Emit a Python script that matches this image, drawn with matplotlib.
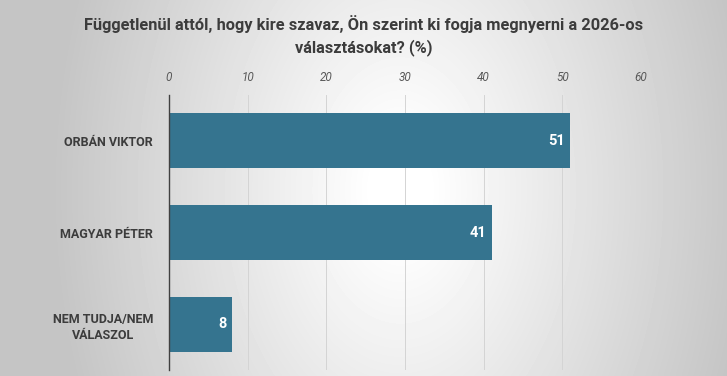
import numpy as np
import matplotlib.pyplot as plt

# adatok
categories = ["ORBÁN VIKTOR", "MAGYAR PÉTER", "NEM TUDJA/NEM\nVÁLASZOL"]
values = [51, 41, 8]
ticks = [0, 10, 20, 30, 40, 50, 60]
title = "Függetlenül attól, hogy kire szavaz, Ön szerint ki fogja megnyerni a 2026-os\nválasztásokat? (%)"

bar_color = "#35748f"
text_color = "#3c3c3c"

fig = plt.figure(figsize=(7.27, 3.76), dpi=100)

# radialis szurke hatter
bg = fig.add_axes([0, 0, 1, 1])
yy, xx = np.mgrid[0:376, 0:727]
d = np.sqrt(((xx - 400) / 727) ** 2 + ((yy - 190) / 1100) ** 2)
shade = np.clip(1.02 - d * 0.52, 0.77, 1.0)
bg.imshow(shade, cmap="gray", vmin=0, vmax=1, aspect="auto")
bg.axis("off")

ax = fig.add_axes([0.2325, 0.016, 0.6492, 0.731])
ax.patch.set_alpha(0)
y = np.arange(len(categories))
ax.barh(y, values, height=0.6, color=bar_color, zorder=3)
for yi, v in zip(y, values):
    ax.text(v - 0.7, yi, str(v), ha="right", va="center", color="white",
            fontsize=10.5, fontweight="bold", family="Roboto", zorder=4)

ax.set_xlim(0, 60)
ax.set_ylim(2.5, -0.5)
ax.set_xticks(ticks)
ax.xaxis.tick_top()
ax.tick_params(axis="x", length=0, pad=8, labelsize=8.5, labelcolor="#595959")
for lbl in ax.get_xticklabels():
    lbl.set_fontstyle("italic")
    lbl.set_family("Roboto")
ax.set_yticks(y)
ax.set_yticklabels(categories, fontsize=9, fontweight="bold", color=text_color,
                   multialignment="center", family="Roboto", linespacing=1.3)
ax.tick_params(axis="y", length=0, pad=11.5)
ax.grid(axis="x", color="#d4d4d4", linewidth=0.7, zorder=0)
for s in ["top", "right", "bottom"]:
    ax.spines[s].set_visible(False)
ax.spines["left"].set_color("#404040")
ax.spines["left"].set_linewidth(1)
ax.spines["left"].set_zorder(5)

fig.text(0.5, 0.905, title, ha="center", va="center", fontsize=11.8,
         fontweight="bold", color=text_color, linespacing=1.45,
         family=["Liberation Sans Narrow", "Roboto", "DejaVu Sans"])

fig.savefig("out.png", dpi=100)
